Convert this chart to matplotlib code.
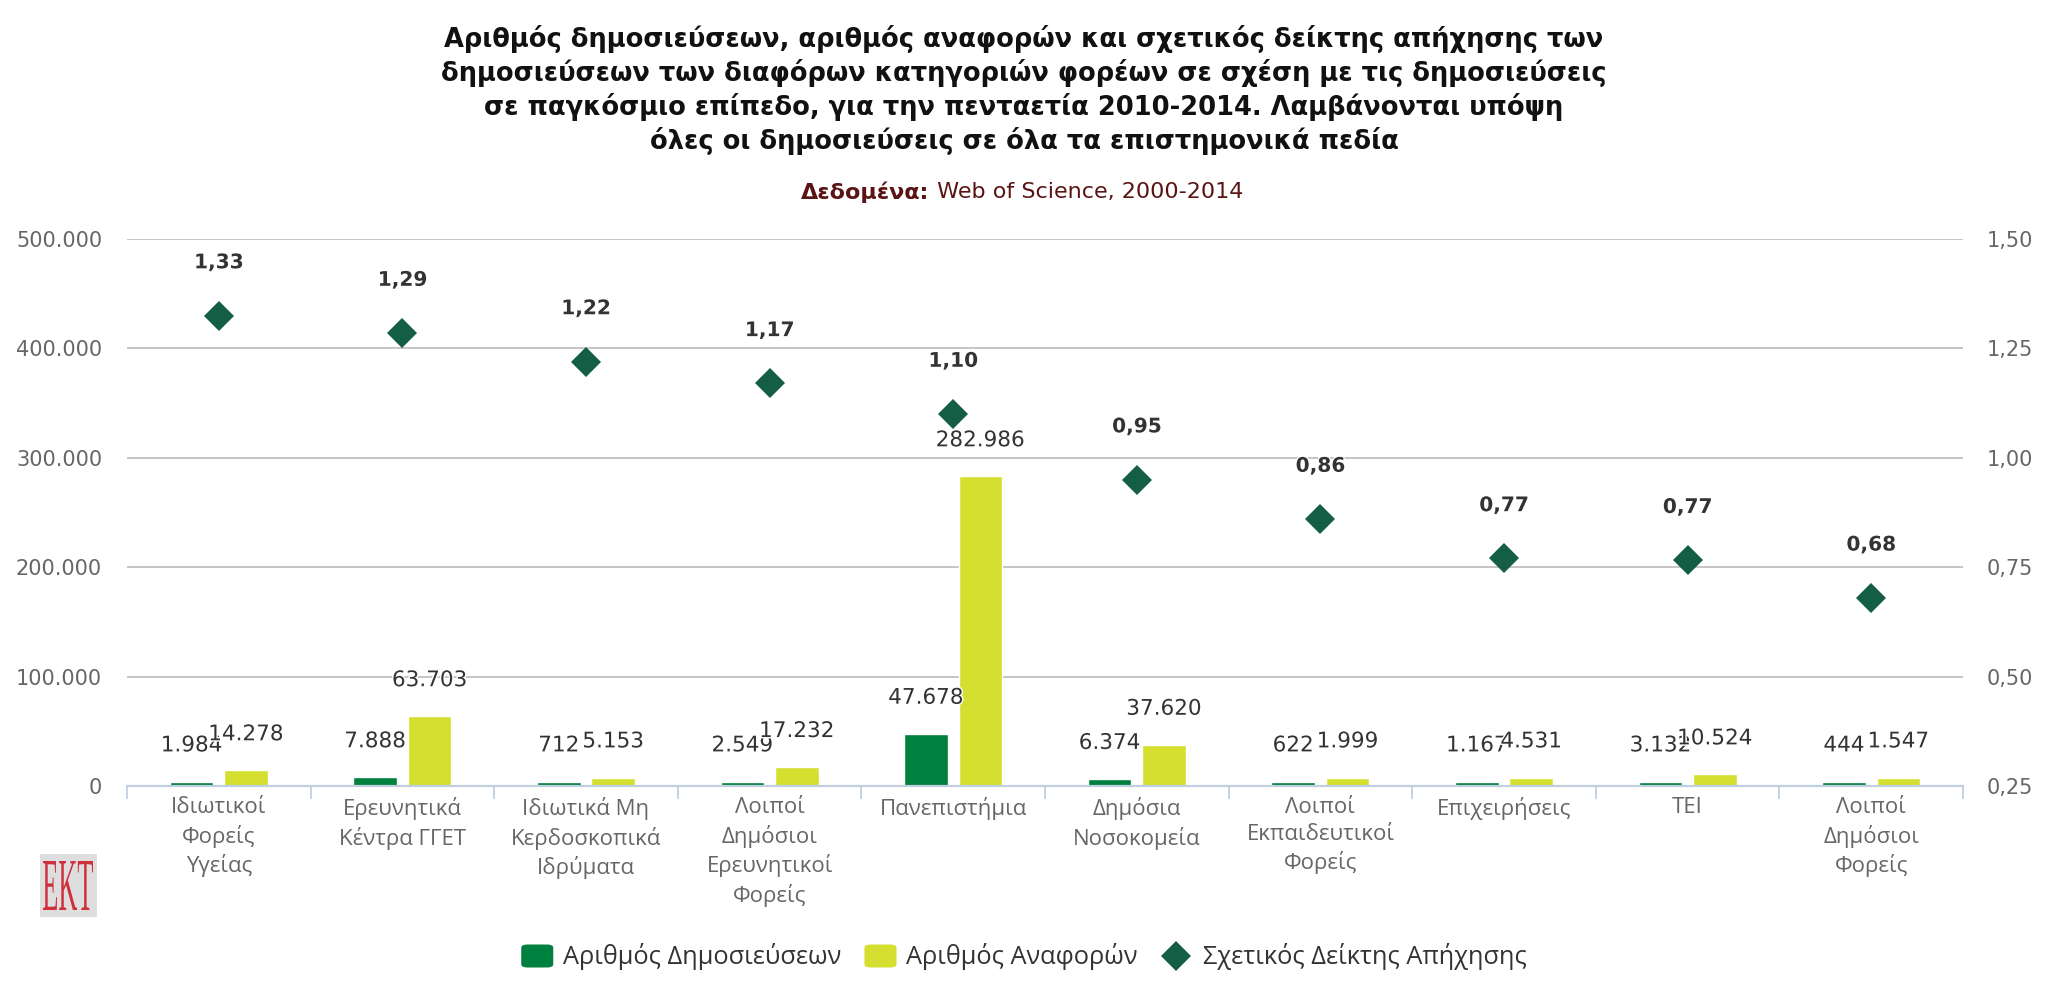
import matplotlib
matplotlib.use("Agg")
import matplotlib.pyplot as plt
import matplotlib.patheffects as pe
from matplotlib.patches import FancyBboxPatch, Rectangle, PathPatch
from matplotlib.lines import Line2D
from matplotlib.textpath import TextPath
from matplotlib.font_manager import FontProperties
from matplotlib.transforms import Affine2D
import numpy as np

# ---------------------------------------
# data

categories = [
    "Ιδιωτικοί\nΦορείς\nΥγείας",
    "Ερευνητικά\nΚέντρα ΓΓΕΤ",
    "Ιδιωτικά Μη\nΚερδοσκοπικά\nΙδρύματα",
    "Λοιποί\nΔημόσιοι\nΕρευνητικοί\nΦορείς",
    "Πανεπιστήμια",
    "Δημόσια\nΝοσοκομεία",
    "Λοιποί\nΕκπαιδευτικοί\nΦορείς",
    "Επιχειρήσεις",
    "ΤΕΙ",
    "Λοιποί\nΔημόσιοι\nΦορείς",
]
publications = [1984, 7888, 712, 2549, 47678, 6374, 622, 1167, 3132, 444]
citations = [14278, 63703, 5153, 17232, 282986, 37620, 1999, 4531, 10524, 1547]
impact = [1.325, 1.285, 1.22, 1.17, 1.10, 0.95, 0.86, 0.77, 0.766, 0.68]

left_ticks = [0, 100000, 200000, 300000, 400000, 500000]
right_ticks = [0.25, 0.50, 0.75, 1.00, 1.25, 1.50]

series_names = ["Αριθμός Δημοσιεύσεων", "Αριθμός Αναφορών", "Σχετικός Δείκτης Απήχησης"]

title_lines = [
    "Αριθμός δημοσιεύσεων, αριθμός αναφορών και σχετικός δείκτης απήχησης των",
    "δημοσιεύσεων των διαφόρων κατηγοριών φορέων σε σχέση με τις δημοσιεύσεις",
    "σε παγκόσμιο επίπεδο, για την πενταετία 2010-2014. Λαμβάνονται υπόψη",
    "όλες οι δημοσιεύσεις σε όλα τα επιστημονικά πεδία",
]
source_label = "Δεδομένα:"
source_text = " Web of Science, 2000-2014"

# ---------------------------------------

GREEN = "#00803f"
YELLOW = "#d4df2f"
DIAMOND = "#135e45"
TXT = "#333333"
AXIS_TXT = "#666666"
SRC = "#5a1414"

W, H = 2048, 1000
fig = plt.figure(figsize=(W / 100, H / 100), dpi=100)
renderer = fig.canvas.get_renderer()


def fx(px):
    return px / W


def fy(py):
    return 1 - py / H


ax_left, ax_right, ax_top, ax_bottom = 127, 1963, 239, 786
ax = fig.add_axes([fx(ax_left), fy(ax_bottom), fx(ax_right - ax_left), (ax_bottom - ax_top) / H])
ax2 = ax.twinx()

x = np.arange(len(categories))
ax.set_xlim(-0.5, len(categories) - 0.5)
ax.set_ylim(0, 500000)
ax2.set_ylim(0.25, 1.5)

# minimum visible bar length in pixels (like Highcharts minPointLength)
px_to_val = 500000 / (ax_bottom - ax_top)
pub_shown = np.maximum(publications, 4.5 * px_to_val)
cit_shown = np.maximum(citations, 8.5 * px_to_val)

bw = 0.238
off = 0.148
ax.bar(x - off, pub_shown, width=bw, color=GREEN, edgecolor="white", linewidth=1, zorder=3)
ax.bar(x + off, cit_shown, width=bw, color=YELLOW, edgecolor="white", linewidth=1, zorder=3)

halo = [pe.withStroke(linewidth=2, foreground="white")]


def fmt_int(v):
    return f"{v:,}".replace(",", ".")


for xi, v, hv in zip(x - off, publications, pub_shown):
    ax.annotate(fmt_int(v), (xi, hv), xytext=(0, 26), textcoords="offset points",
                ha="center", va="center", fontsize=15.5, color=TXT,
                path_effects=halo, zorder=5)
for xi, v, hv in zip(x + off, citations, cit_shown):
    ax.annotate(fmt_int(v), (xi, hv), xytext=(0, 26), textcoords="offset points",
                ha="center", va="center", fontsize=15.5, color=TXT,
                path_effects=halo, zorder=5)

ax2.plot(x, impact, linestyle="none", marker="D", markersize=15.3,
         color=DIAMOND, markeredgewidth=0, zorder=4)
for xi, v in zip(x, impact):
    lab = f"{round(v + 1e-9, 2):.2f}".replace(".", ",")
    ax2.annotate(lab, (xi, v), xytext=(0, 38),
                 textcoords="offset points", ha="center", va="center",
                 fontsize=14.5, fontweight="bold", color=TXT, path_effects=halo)

# grid and axes
ax.set_yticks(left_ticks)
ax.set_yticklabels([fmt_int(v) for v in left_ticks])
ax.yaxis.grid(True, color="#c0c0c0", linewidth=1.3)
ax.set_axisbelow(True)
ax.tick_params(axis="y", length=0, pad=18, labelsize=15, labelcolor=AXIS_TXT)

ax2.set_yticks(right_ticks)
ax2.set_yticklabels([f"{v:.2f}".replace(".", ",") for v in right_ticks])
ax2.tick_params(axis="y", length=0, pad=17, labelsize=15, labelcolor=AXIS_TXT)

ax.set_xticks(x)
ax.set_xticklabels(categories, fontfamily="Open Sans", fontsize=16, color=AXIS_TXT,
                   linespacing=1.36, va="top")
ax.set_xticks(np.arange(-0.5, len(categories)), minor=True)
ax.tick_params(axis="x", which="major", length=0, pad=8)
ax.tick_params(axis="x", which="minor", length=9, width=1.3, color="#c0d0e0")

for a in (ax, ax2):
    for s in ("top", "left", "right", "bottom"):
        a.spines[s].set_visible(False)
ax.spines["bottom"].set_visible(True)
ax.spines["bottom"].set_color("#c0d0e0")
ax.spines["bottom"].set_linewidth(1.6)
ax.spines["bottom"].set_zorder(4)

# title
for i, line in enumerate(title_lines):
    fig.text(0.5, fy(39 + 34 * i), line, ha="center", va="center",
             fontsize=18.5, fontweight="bold", color="#111111")

# source line
t1 = fig.text(0, fy(192), source_label, ha="left", va="center", fontsize=16,
              fontweight="bold", color=SRC)
t2 = fig.text(0, fy(192), source_text, ha="left", va="center", fontsize=16, color=SRC)
w1 = t1.get_window_extent(renderer).width
w2 = t2.get_window_extent(renderer).width
start = 1022 - (w1 + w2) / 2
t1.set_x(fx(start))
t2.set_x(fx(start + w1))

# EKT logo
fig.add_artist(Rectangle((fx(40), fy(917)), fx(57), 63 / H, facecolor="#dedede",
                         edgecolor="none", transform=fig.transFigure))
tp = TextPath((0, 0), "EKT", size=100, prop=FontProperties(family="Liberation Serif"))
ext = tp.get_extents()
sx = 50 / ext.width
sy = 49 / ext.height
tr = Affine2D().translate(-ext.x0, -ext.y0).scale(sx, sy).translate(43, H - 910)
fig.add_artist(PathPatch(tr.transform_path(tp), facecolor="#d0303c", edgecolor="none",
                         transform=None))

# legend (drawn by hand to follow the reference spacing)
leg_y = 956
leg_font = dict(fontfamily="Open Sans", fontsize=18.3, color=TXT)
texts = [fig.text(0, fy(leg_y), name, ha="left", va="center", **leg_font) for name in series_names]
widths = [t.get_window_extent(renderer).width for t in texts]
sym_w = [32, 32, 30]
sym_gap = [10, 10, 12]
item_gap = 23
total = sum(sym_w) + sum(sym_gap) + sum(widths) + 2 * item_gap
cur = 1024 - total / 2
colors = [GREEN, YELLOW, DIAMOND]
for i in range(3):
    if i < 2:
        fig.add_artist(FancyBboxPatch((fx(cur), fy(leg_y + 11.5)), fx(sym_w[i]), 23 / H,
                                      boxstyle="round,pad=0,rounding_size=0.003",
                                      facecolor=colors[i], edgecolor="none",
                                      transform=fig.transFigure))
    else:
        fig.add_artist(Line2D([fx(cur + 15)], [fy(leg_y)], marker="D", markersize=15.3,
                              color=colors[i], markeredgewidth=0, linestyle="none",
                              transform=fig.transFigure))
    cur += sym_w[i] + sym_gap[i]
    texts[i].set_x(fx(cur))
    cur += widths[i] + item_gap

fig.savefig("out.png", dpi=100, facecolor="white")
